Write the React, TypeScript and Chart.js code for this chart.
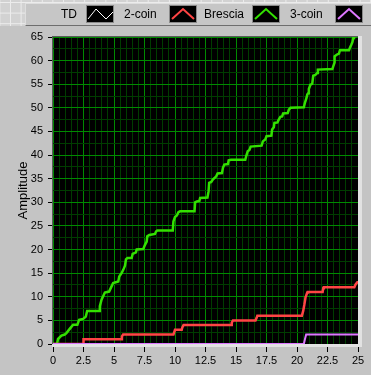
import React, { useEffect, useRef } from "react";
import { Chart, registerables } from "chart.js";

Chart.register(...registerables);

// ---- data ----
const seriesNames = ["TD", "2-coin", "Brescia", "3-coin"];
const seriesColors = ["#ffffff", "#ff4444", "#33e000", "#dd77ff"];

const tdX = [0, 20.6];
const tdY = [0, 0];

const coin2X = [0, 2.47, 2.5, 5.6, 5.65, 5.75, 9.87, 9.95, 10.0, 10.55, 10.6, 10.7, 14.6, 14.65, 14.75, 16.6, 16.7, 16.75, 20.4, 20.5, 20.6, 20.7, 20.84, 20.9, 22.1, 22.15, 22.2, 24.7, 24.8, 24.95, 25];
const coin2Y = [0, 0, 1, 1, 1.6, 2, 2, 2.6, 3, 3, 3.5, 4, 4, 4.5, 5, 5, 5.6, 6, 6, 6.9, 8.3, 9.9, 10.9, 11, 11, 11.8, 12, 12, 12.6, 13.1, 13.1];

const bresciaX = [0, 0.33, 0.41, 0.69, 0.96, 1.1, 1.37, 1.65, 2.0, 2.14, 2.47, 2.69, 2.8, 3.78, 3.84, 3.98, 4.25, 4.6, 4.8, 4.93, 5.35, 5.43, 5.62, 5.76, 5.9, 5.98, 6.1, 6.45, 6.53, 6.8, 6.86, 7.4, 7.54, 7.68, 7.73, 7.9, 8.36, 8.45, 8.55, 9.82, 9.87, 10.0, 10.15, 10.28, 10.42, 11.6, 11.65, 11.79, 12.0, 12.06, 12.66, 12.75, 12.8, 12.97, 13.1, 13.38, 13.49, 13.85, 13.93, 14.04, 14.34, 14.4, 14.59, 15.76, 15.85, 15.96, 16.1, 16.2, 17.1, 17.2, 17.4, 17.5, 17.9, 17.96, 18.1, 18.15, 18.4, 18.5, 18.64, 18.78, 18.86, 19.24, 19.33, 19.47, 20.56, 20.64, 20.78, 20.84, 20.92, 20.97, 21.1, 21.25, 21.33, 21.52, 21.66, 21.71, 22.9, 22.97, 23.08, 23.08, 23.25, 23.44, 23.52, 24.26, 24.34, 24.46, 24.54, 24.62, 24.67, 25];
const bresciaY = [0, 0, 1.06, 1.76, 2.0, 2.3, 3.2, 4.1, 4.1, 5.1, 5.3, 5.8, 7.0, 7.0, 8.0, 9.4, 10.9, 11.1, 12.2, 12.9, 13.25, 14.3, 15.0, 15.7, 16.6, 17.9, 18.2, 18.2, 19.1, 19.4, 20, 20.1, 21, 21.7, 22.8, 23.1, 23.3, 23.8, 24.05, 24.05, 25.96, 26.9, 27.2, 27.9, 28.1, 28.1, 30, 30.2, 30.3, 30.9, 31.0, 32.3, 34.1, 34.3, 34.8, 35.5, 36.1, 36.2, 37.3, 38, 38.1, 38.9, 39.0, 39.0, 39.9, 40.8, 41.1, 41.8, 42.0, 42.9, 43.3, 44.0, 44.1, 45.4, 45.9, 46.8, 46.9, 47.5, 48.1, 48.2, 48.8, 48.9, 49.6, 50.0, 50.1, 51.0, 52.1, 52.8, 53.1, 54.0, 54.9, 55.1, 56.8, 57.0, 57.4, 58.1, 58.2, 58.8, 59.6, 60.9, 61.25, 61.5, 62.2, 62.2, 62.7, 63.4, 63.9, 64.8, 65.1, 65.3];

const coin3X = [0, 20.56, 20.65, 20.75, 25];
const coin3Y = [0, 0, 1, 2, 2];

const xMajorTicks = [0, 2.5, 5, 7.5, 10, 12.5, 15, 17.5, 20, 22.5, 25];
const yMajorTicks = [0, 5, 10, 15, 20, 25, 30, 35, 40, 45, 50, 55, 60, 65];

const near = (v: number, list: number[]) => list.some((t) => Math.abs(t - v) < 1e-6);
const isMult = (v: number, s: number) => Math.abs(v / s - Math.round(v / s)) < 1e-6;

const toPts = (xs: number[], ys: number[]) => xs.map((x, i) => ({ x, y: ys[i] }));

const MAJOR = "#008a00";
const MINOR = "#003d00";

const framePlugin = {
  id: "lvFrame",
  beforeDraw(chart: any) {
    const { ctx, chartArea: a } = chart;
    ctx.save();
    ctx.fillStyle = "#000";
    ctx.fillRect(a.left, a.top, a.right - a.left, a.bottom - a.top);
    ctx.restore();
  },
  afterDraw(chart: any) {
    const { ctx, chartArea: a } = chart;
    ctx.save();
    ctx.fillStyle = "#e2e2e2";
    ctx.fillRect(a.right, a.top - 1, 4, a.bottom - a.top + 4);
    ctx.fillRect(a.left - 1, a.bottom, a.right - a.left + 5, 3);
    ctx.fillStyle = "#5a5a5a";
    ctx.fillRect(a.left - 1, a.top - 1, a.right - a.left + 1, 1);
    ctx.fillRect(a.left - 1, a.top - 1, 1, a.bottom - a.top + 1);
    ctx.restore();
  },
};

function Swatch({ color, td }: { color: string; td?: boolean }) {
  return (
    <svg width={28} height={18} style={{ display: "block" }}>
      <rect x={0.5} y={0.5} width={27} height={17} fill="#000" stroke="#8a8a8a" />
      {td ? (
        <polyline points="2,14 10,4 20,14 27,7" fill="none" stroke={color} strokeWidth={1} />
      ) : (
        <polyline points="3,14 14,4 25,14" fill="none" stroke={color} strokeWidth={2} />
      )}
    </svg>
  );
}

export default function App() {
  const ref = useRef<HTMLCanvasElement | null>(null);

  useEffect(() => {
    if (!ref.current) return;
    const tickFont = { family: "'Liberation Sans', Arial, sans-serif", size: 11 };
    const chart = new Chart(ref.current, {
      type: "line",
      data: {
        datasets: [
          { label: seriesNames[3], data: toPts(coin3X, coin3Y), borderColor: seriesColors[3], borderWidth: 2, pointRadius: 0, order: 0 },
          { label: seriesNames[1], data: toPts(coin2X, coin2Y), borderColor: seriesColors[1], borderWidth: 2.5, pointRadius: 0, order: 1 },
          { label: seriesNames[2], data: toPts(bresciaX, bresciaY), borderColor: seriesColors[2], borderWidth: 2.5, pointRadius: 0, order: 2 },
          { label: seriesNames[0], data: toPts(tdX, tdY), borderColor: seriesColors[0], borderWidth: 1, pointRadius: 0, order: 3 },
        ],
      },
      options: {
        animation: false,
        responsive: false,
        devicePixelRatio: 1,
        layout: { padding: { left: 0, top: 37, right: 13, bottom: 0 } },
        plugins: { legend: { display: false }, tooltip: { enabled: false } },
        elements: { line: { tension: 0 } },
        scales: {
          x: {
            type: "linear",
            min: 0,
            max: 25,
            afterFit: (s: any) => { s.height = 31; },
            border: { display: false },
            grid: {
              color: (c: any) => (c.tick && isMult(c.tick.value, 2.5) ? MAJOR : MINOR),
              tickColor: (c: any) => (c.tick && isMult(c.tick.value, 2.5) ? "#000" : "rgba(0,0,0,0)"),
              tickLength: 8,
              lineWidth: 1,
            },
            ticks: {
              stepSize: 0.5,
              autoSkip: false,
              maxRotation: 0,
              maxTicksLimit: 200,
              padding: 2,
              color: "#000",
              font: tickFont,
              callback: (v: any) => (near(Number(v), xMajorTicks) ? String(Number(v)) : ""),
            },
          },
          y: {
            type: "linear",
            min: 0,
            max: 65,
            afterFit: (s: any) => { s.width = 53; },
            border: { display: false },
            grid: {
              color: (c: any) => (c.tick && isMult(c.tick.value, 5) ? MAJOR : MINOR),
              tickColor: (c: any) => (c.tick && isMult(c.tick.value, 5) ? "#000" : "rgba(0,0,0,0)"),
              tickLength: 5,
              lineWidth: 1,
            },
            ticks: {
              stepSize: 2.5,
              autoSkip: false,
              maxTicksLimit: 200,
              padding: 5,
              color: "#000",
              font: tickFont,
              callback: (v: any) => (near(Number(v), yMajorTicks) ? String(Number(v)) : ""),
            },
            title: {
              display: true,
              text: "Amplitude",
              color: "#000",
              font: { family: "'Liberation Sans', Arial, sans-serif", size: 13 },
              padding: { top: 16, bottom: 0 },
            },
          },
        },
      },
      plugins: [framePlugin],
    } as any);
    return () => chart.destroy();
  }, []);

  const textStyle: React.CSSProperties = {
    position: "absolute",
    top: 5,
    height: 18,
    lineHeight: "18px",
    fontFamily: "'Liberation Sans', Arial, sans-serif",
    fontSize: 12,
    color: "#000",
    whiteSpace: "nowrap",
  };

  return (
    <div style={{ position: "fixed", left: 0, top: 0, width: 371, height: 375, background: "#c4c4c4", overflow: "hidden" }}>
      <div
        style={{
          position: "absolute",
          left: 0,
          top: 0,
          width: 371,
          height: 26,
          backgroundColor: "#d2d2d2",
          backgroundImage:
            "linear-gradient(to right, #ececec 1px, transparent 1px), linear-gradient(to bottom, #ececec 1px, transparent 1px)",
          backgroundSize: "10.6px 10.6px",
          backgroundPosition: "10px 2px",
        }}
      />
      <div
        style={{
          position: "absolute",
          left: 25,
          top: 3,
          width: 346,
          height: 21,
          background: "#c6c6c6",
          borderBottom: "1px solid #6e6e6e",
          borderLeft: "1px solid #dedede",
          borderTop: "1px solid #dedede",
        }}
      />
      <canvas ref={ref} width={371} height={375} style={{ position: "absolute", left: 0, top: 0, width: 371, height: 375 }} />
      <div style={{ ...textStyle, left: 61 }}>{seriesNames[0]}</div>
      <div style={{ position: "absolute", left: 86, top: 5 }}><Swatch color={seriesColors[0]} td /></div>
      <div style={{ ...textStyle, left: 124 }}>{seriesNames[1]}</div>
      <div style={{ position: "absolute", left: 169, top: 5 }}><Swatch color={seriesColors[1]} /></div>
      <div style={{ ...textStyle, left: 204 }}>{seriesNames[2]}</div>
      <div style={{ position: "absolute", left: 252, top: 5 }}><Swatch color={seriesColors[2]} /></div>
      <div style={{ ...textStyle, left: 290 }}>{seriesNames[3]}</div>
      <div style={{ position: "absolute", left: 335, top: 5 }}><Swatch color={seriesColors[3]} /></div>
    </div>
  );
}
